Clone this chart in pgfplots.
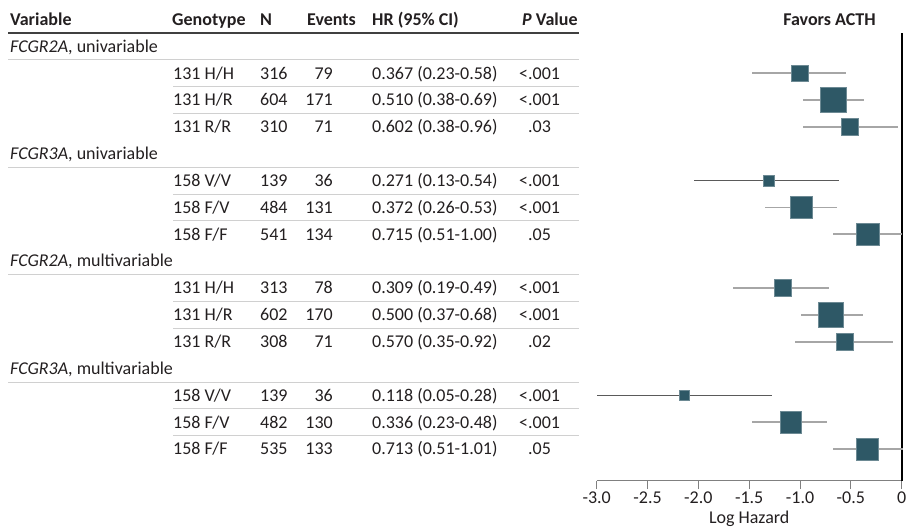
\documentclass[border=0pt]{standalone}
\usepackage{fontspec}
\setmainfont{Carlito}
\usepackage{pgfplots}
\pgfplotsset{compat=1.18}
\usepackage{pgfplotstable}
\definecolor{boxc}{RGB}{46,88,102}
\definecolor{txt}{RGB}{35,31,32}
\definecolor{cil}{RGB}{166,166,166}
\definecolor{cid}{RGB}{90,90,90}
\definecolor{sep}{RGB}{208,208,208}

% y = -(row centre in pixels), hr = log HR, em/ep = distance to CI limits
\pgfplotstableread{
y hr em ep
-73.2 -1.0024 0.4673 0.4577
-100.05 -0.6733 0.2943 0.3022
-126.9 -0.5075 0.4601 0.4667
-207.45 -0.9889 0.3582 0.3540
-234.3 -0.3355 0.3378 0.3355
-288 -1.1744 0.4863 0.4611
-314.85 -0.6931 0.3012 0.3074
-341.7 -0.5621 0.4877 0.4787
-422.25 -1.0906 0.3791 0.3566
-449.1 -0.3383 0.3350 0.3483
}\mainci
\pgfplotstableread{
y hr em ep
-180.6 -1.3056 0.7346 0.6894
-395.4 -2.1371 0.8586 0.8641
}\vvci
\pgfplotstableread{
y hr s
-73.2 -1.0024 8.4
-100.05 -0.6733 12.7
-126.9 -0.5075 8.5
-180.6 -1.3056 5.8
-207.45 -0.9889 10.7
-234.3 -0.3355 11.3
-288 -1.1744 8.5
-314.85 -0.6931 12.5
-341.7 -0.5621 8.5
-395.4 -2.1371 5.2
-422.25 -1.0906 10.8
-449.1 -0.3383 11.3
}\boxes

\newcommand{\trow}[6]{%
 \node[anchor=base west] at (173,#1) {#2};
 \node[anchor=base west] at (260,#1) {#3};
 \node[anchor=base east] at (333,#1) {#4};
 \node[anchor=base west] at (372,#1) {#5};
 \node[anchor=base west] at (528,#1) {#6};}

\begin{document}
\begin{tikzpicture}
\useasboundingbox (0pt,0pt) rectangle (909pt,-531pt);

\begin{scope}[x=1pt, y=-1pt]
% separator lines
\draw[sep, line width=1pt] (8,59.8) -- (579,59.8);
\draw[sep, line width=1pt] (8,167.2) -- (579,167.2);
\draw[sep, line width=1pt] (8,274.6) -- (579,274.6);
\draw[sep, line width=1pt] (8,382) -- (579,382);
\foreach \yy in {86.6,113.5,194,220.9,301.4,328.3,408.8,435.7}
  \draw[sep, line width=1pt] (173,\yy) -- (579,\yy);
\draw[black!75, line width=1.1pt] (8,33) -- (579,33);

\begin{scope}[every node/.style={inner sep=0pt, text=txt, font=\fontsize{18}{21}\selectfont}]
\node[anchor=base west] at (10,25.3) {\bfseries Variable};
\node[anchor=base west] at (172,25.3) {\bfseries Genotype};
\node[anchor=base west] at (260,25.3) {\bfseries N};
\node[anchor=base west] at (307,25.3) {\bfseries Events};
\node[anchor=base west] at (372,25.3) {\bfseries HR (95\% CI)};
\node[anchor=base west] at (522,25.3) {\bfseries\textit{P} Value};
\node[anchor=base] at (829.5,25.3) {\bfseries Favors ACTH};

\node[anchor=base west] at (10,52.15) {\textit{FCGR2A}, univariable};
\trow{79.0}{131 H/H}{316}{79}{0.367 (0.23-0.58)}{\llap{<}.001}
\trow{105.85}{131 H/R}{604}{171}{0.510 (0.38-0.69)}{\llap{<}.001}
\trow{132.7}{131 R/R}{310}{71}{0.602 (0.38-0.96)}{.03}
\node[anchor=base west] at (10,159.55) {\textit{FCGR3A}, univariable};
\trow{186.4}{158 V/V}{139}{36}{0.271 (0.13-0.54)}{\llap{<}.001}
\trow{213.25}{158 F/V}{484}{131}{0.372 (0.26-0.53)}{\llap{<}.001}
\trow{240.1}{158 F/F}{541}{134}{0.715 (0.51-1.00)}{.05}
\node[anchor=base west] at (10,266.95) {\textit{FCGR2A}, multivariable};
\trow{293.8}{131 H/H}{313}{78}{0.309 (0.19-0.49)}{\llap{<}.001}
\trow{320.65}{131 H/R}{602}{170}{0.500 (0.37-0.68)}{\llap{<}.001}
\trow{347.5}{131 R/R}{308}{71}{0.570 (0.35-0.92)}{.02}
\node[anchor=base west] at (10,374.35) {\textit{FCGR3A}, multivariable};
\trow{401.2}{158 V/V}{139}{36}{0.118 (0.05-0.28)}{\llap{<}.001}
\trow{428.05}{158 F/V}{482}{130}{0.336 (0.23-0.48)}{\llap{<}.001}
\trow{454.9}{158 F/F}{535}{133}{0.713 (0.51-1.01)}{.05}

\node[anchor=base] at (749.2,523.8) {Log Hazard};
\end{scope}
\end{scope}

\begin{axis}[
  at={(596.7pt,-480.5pt)}, anchor=south west,
  scale only axis, width=305pt, height=447.5pt,
  xmin=-3, xmax=0, ymin=-480.5, ymax=-33,
  clip=false,
  axis x line*=bottom, axis y line=none,
  axis line style={draw=gray, line width=1pt},
  xtick={-3,-2.5,-2,-1.5,-1,-0.5,0},
  xticklabels={-3.0,-2.5,-2.0,-1.5,-1.0,-0.5,0},
  tick align=outside, major tick length=8.5pt,
  tick style={draw=gray, line width=1pt},
  xticklabel style={font=\fontsize{18}{21}\selectfont, text=txt, inner sep=0pt, yshift=-3pt},
  ytick=\empty,
]
\addplot[black, line width=1.6pt, mark=none] coordinates {(0,-33) (0,-480.5)};
\addplot[only marks, mark=none, error bars/.cd, x dir=both, x explicit, error mark=none,
  error bar style={draw=cil, line width=1.9pt, solid}]
  table[x=hr, y=y, x error minus=em, x error plus=ep] {\mainci};
\addplot[only marks, mark=none, error bars/.cd, x dir=both, x explicit, error mark=none,
  error bar style={draw=cid, line width=1.2pt, solid}]
  table[x=hr, y=y, x error minus=em, x error plus=ep] {\vvci};
\addplot[scatter, only marks, mark=square*,
  scatter/use mapped color={draw=boxc!70!white, fill=boxc},
  visualization depends on={\thisrow{s} \as \ms},
  scatter/@pre marker code/.append style={/tikz/mark size=\ms},
  mark options={line width=0.6pt}]
  table[x=hr, y=y] {\boxes};
\end{axis}
\end{tikzpicture}
\end{document}
